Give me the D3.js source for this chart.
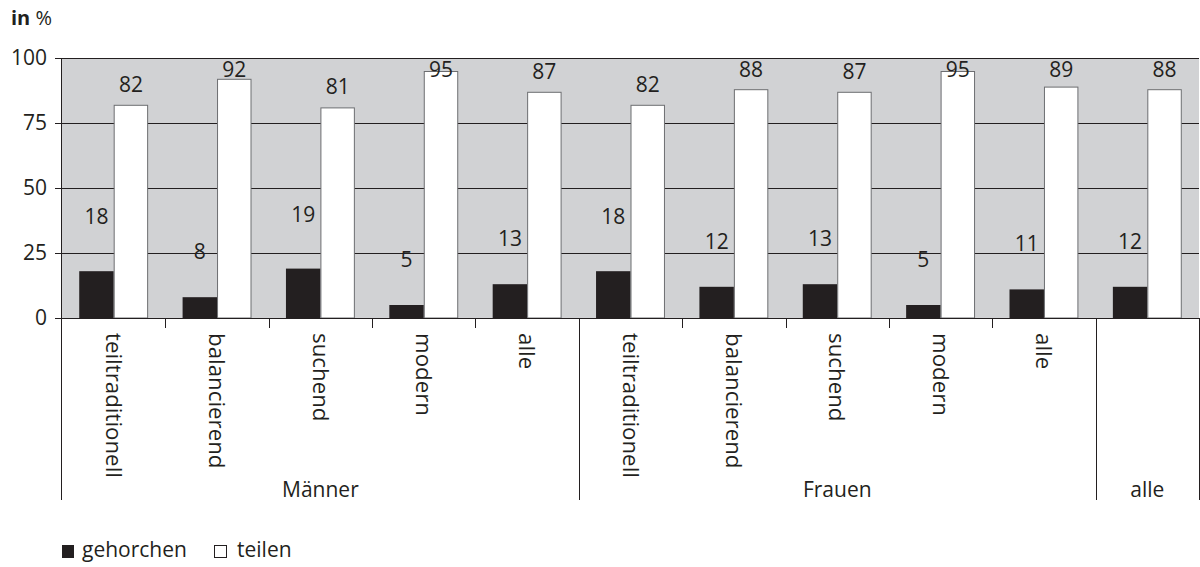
<!DOCTYPE html>
<html>
<head>
<meta charset="utf-8">
<script src="https://cdn.jsdelivr.net/npm/d3@7"></script>
<style>
  body { margin: 0; background: #fff; }
  svg { display: block; font-family: "Open Sans", "Noto Sans", sans-serif; }
</style>
</head>
<body>
<svg id="chart" width="1200" height="567"></svg>
<script>
// categories along the x axis (last one is the overall "alle" column, no sub label)
const categories = ["teiltraditionell", "balancierend", "suchend", "modern", "alle",
                    "teiltraditionell", "balancierend", "suchend", "modern", "alle", ""];
const groupNames = ["Männer", "Frauen", "alle"];
const groupSizes = [5, 5, 1];

const gehorchen = [18, 8, 19, 5, 13, 18, 12, 13, 5, 11, 12];
const teilen    = [82, 92, 81, 95, 87, 82, 88, 87, 95, 89, 88];

const seriesNames = ["gehorchen", "teilen"];
const yTicks = [0, 25, 50, 75, 100];

const ink = "#231f20";
const plotBg = "#d1d2d4";

const svg = d3.select("#chart");
const pLeft = 62, pRight = 1199, pTop = 58, pBottom = 318, lowerEnd = 500;

const x = d3.scaleBand()
    .domain(d3.range(categories.length))
    .range([pLeft, pRight]);

const xs = d3.scaleBand()
    .domain(seriesNames)
    .range([0, x.bandwidth()])
    .paddingOuter(0.5);

const y = d3.scaleLinear().domain([0, 100]).range([pBottom, pTop]);

// plot background
svg.append("rect")
    .attr("x", pLeft).attr("y", pTop)
    .attr("width", pRight - pLeft).attr("height", pBottom - pTop)
    .attr("fill", plotBg);

// gridlines
const grid = svg.append("g")
    .attr("transform", "translate(" + pLeft + ",0)")
    .call(d3.axisLeft(y).tickValues(yTicks).tickSize(-(pRight - pLeft)).tickFormat(""));
grid.select(".domain").remove();
grid.selectAll("line").attr("stroke", ink).attr("stroke-width", 1);

// bars
const rows = categories.map((c, i) => ({ i: i, gehorchen: gehorchen[i], teilen: teilen[i] }));

svg.append("g").selectAll("rect")
    .data(rows)
    .enter().append("rect")
    .attr("x", d => x(d.i) + xs("gehorchen"))
    .attr("y", d => y(d.gehorchen))
    .attr("width", xs.bandwidth())
    .attr("height", d => y(0) - y(d.gehorchen))
    .attr("fill", ink);

svg.append("g").selectAll("rect")
    .data(rows)
    .enter().append("rect")
    .attr("x", d => x(d.i) + xs("teilen") + 0.5)
    .attr("y", d => y(d.teilen) + 0.5)
    .attr("width", xs.bandwidth() - 1)
    .attr("height", d => y(0) - y(d.teilen) - 0.5)
    .attr("fill", "#fff")
    .attr("stroke", "#6d6e71")
    .attr("stroke-width", 1);

// value labels
const labels = svg.append("g")
    .attr("font-size", 21)
    .attr("fill", ink)
    .attr("text-anchor", "middle");

labels.selectAll(".lt")
    .data(rows)
    .enter().append("text")
    .attr("class", "lt")
    .attr("x", d => x(d.i) + xs("teilen") + xs.bandwidth() / 2)
    .attr("y", d => Math.max(y(d.teilen) - 13, y(100) + 19))
    .text(d => d.teilen);

labels.selectAll(".lg")
    .data(rows)
    .enter().append("text")
    .attr("class", "lg")
    .attr("x", d => x(d.i) + xs("gehorchen") + xs.bandwidth() / 2)
    .attr("y", d => y(d.gehorchen) - (d.gehorchen > 15 ? 47 : 38))
    .text(d => d.gehorchen);

// y axis labels + ticks
const yAxis = svg.append("g")
    .attr("transform", "translate(" + pLeft + ",0)")
    .call(d3.axisLeft(y).tickValues(yTicks).tickSize(7).tickPadding(8));
yAxis.select(".domain").remove();
yAxis.selectAll("line").attr("stroke", ink);
yAxis.selectAll("text")
    .attr("font-size", 21)
    .attr("font-family", "Open Sans, Noto Sans, sans-serif")
    .attr("fill", ink);

// axis lines
svg.append("line")
    .attr("x1", pLeft - 0.5).attr("x2", pLeft - 0.5)
    .attr("y1", pTop).attr("y2", lowerEnd)
    .attr("stroke", ink);
svg.append("line")
    .attr("x1", pLeft - 7).attr("x2", pRight)
    .attr("y1", pBottom + 0.5).attr("y2", pBottom + 0.5)
    .attr("stroke", ink);

// category ticks and group separators
let groupStarts = [];
let acc = 0;
groupSizes.forEach(s => { groupStarts.push(acc); acc += s; });
const groupEdges = groupStarts.slice(1).concat([categories.length]);

d3.range(1, categories.length + 1).forEach(i => {
    const xx = i < categories.length ? x(i) : pRight;
    const isEdge = groupEdges.indexOf(i) >= 0;
    svg.append("line")
        .attr("x1", Math.round(xx) + 0.5).attr("x2", Math.round(xx) + 0.5)
        .attr("y1", pBottom).attr("y2", isEdge ? lowerEnd : pBottom + 10)
        .attr("stroke", ink);
});

// rotated category labels
svg.append("g").selectAll("text")
    .data(categories)
    .enter().append("text")
    .attr("transform", (d, i) => "translate(" + (x(i) + x.bandwidth() / 2) + "," + (pBottom + 15) + ") rotate(90)")
    .attr("dy", "0.35em")
    .attr("font-size", 22.3)
    .attr("fill", ink)
    .text(d => d);

// group labels
svg.append("g").selectAll("text")
    .data(groupNames)
    .enter().append("text")
    .attr("x", (d, g) => {
        const a = x(groupStarts[g]);
        const e = groupEdges[g] < categories.length ? x(groupEdges[g]) : pRight;
        return (a + e) / 2;
    })
    .attr("y", lowerEnd - 3)
    .attr("text-anchor", "middle")
    .attr("font-size", 21)
    .attr("fill", ink)
    .text(d => d);

// unit title
const title = svg.append("text")
    .attr("x", 11).attr("y", 25)
    .attr("font-size", 20)
    .attr("fill", ink);
title.append("tspan").attr("font-weight", "bold").text("in");
title.append("tspan").text(" %");

// legend
const legend = svg.append("g").attr("font-size", 21).attr("fill", ink);
legend.append("rect")
    .attr("x", 62).attr("y", 545).attr("width", 12).attr("height", 13)
    .attr("fill", ink);
legend.append("text").attr("x", 82).attr("y", 557).text(seriesNames[0]);
legend.append("rect")
    .attr("x", 214.5).attr("y", 545.5).attr("width", 12).attr("height", 12)
    .attr("fill", "#fff").attr("stroke", ink);
legend.append("text").attr("x", 237).attr("y", 557).text(seriesNames[1]);
</script>
</body>
</html>
